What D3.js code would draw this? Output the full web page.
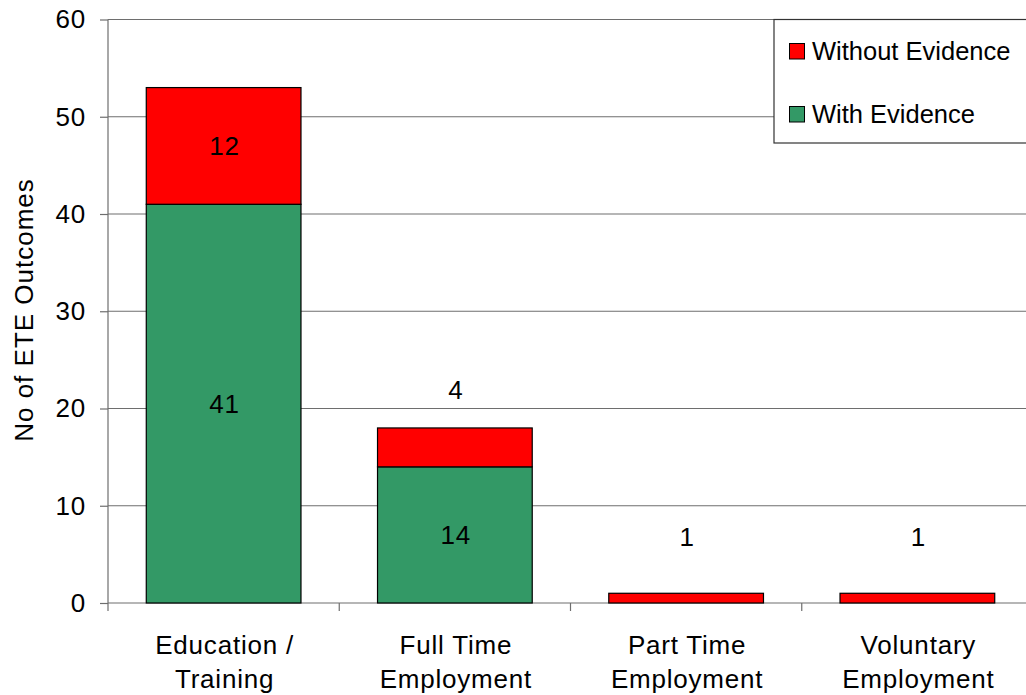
<!DOCTYPE html>
<html><head><meta charset="utf-8">
<script src="https://cdn.jsdelivr.net/npm/d3@7"></script>
<style>
html,body{margin:0;padding:0;background:#fff;}
text{font-family:"Liberation Sans",Arial,sans-serif;fill:#000;}
</style></head>
<body>
<svg id="c" width="1026" height="695"></svg>
<script>
const categories = [["Education /","Training"],["Full Time","Employment"],["Part Time","Employment"],["Voluntary","Employment"]];
const withEvidence = [41, 14, 0, 0];
const withoutEvidence = [12, 4, 1, 1];
const yTicks = [0, 10, 20, 30, 40, 50, 60];
const seriesNames = ["Without Evidence", "With Evidence"];
const colors = {with: "#339966", without: "#FF0000"};

const svg = d3.select("#c");
const L = 108, R = 1033, T = 19.5, B = 603;
const keys = categories.map((c,i)=>i);
const x = d3.scaleBand().domain(keys).range([L, R]).padding(0);
const y = d3.scaleLinear().domain([0, 60]).range([B, T]);
const barW = x.bandwidth() * 0.669;
const FS = 26, LS = "0.8px";

// gridlines
svg.append("g").selectAll("line").data(yTicks.filter(d=>d>0)).join("line")
  .attr("x1", L).attr("x2", 1026).attr("y1", d=>y(d)).attr("y2", d=>y(d))
  .attr("stroke", "#6e6e6e").attr("stroke-width", 1.2);

// y axis
const yAxis = d3.axisLeft(y).tickValues(yTicks).tickSize(8).tickPadding(14).tickFormat(d3.format("d"));
const gy = svg.append("g").attr("transform", `translate(${L},0)`).call(yAxis);
gy.select(".domain").attr("stroke", "#6e6e6e").attr("stroke-width", 1.2).attr("d", `M0,${T}V${B+8}`);
gy.selectAll(".tick line").attr("stroke", "#6e6e6e").attr("stroke-width", 1.2);
gy.selectAll(".tick text").attr("font-size", FS).attr("letter-spacing", LS).attr("fill", "#000")
  .attr("font-family", '"Liberation Sans",Arial,sans-serif');

// x axis
const gx = svg.append("g").attr("transform", `translate(0,${B})`);
gx.append("line").attr("x1", L).attr("x2", 1026).attr("y1", 0).attr("y2", 0).attr("stroke", "#6e6e6e").attr("stroke-width", 1.2);
gx.selectAll("line.tk").data(keys.slice(1)).join("line").attr("class","tk")
  .attr("x1", d=>x(d)).attr("x2", d=>x(d)).attr("y1", 0).attr("y2", 8).attr("stroke", "#6e6e6e").attr("stroke-width", 1.2);

// category labels
const cl = svg.append("g").selectAll("text").data(keys).join("text")
  .attr("text-anchor", "middle").attr("font-size", FS).attr("letter-spacing", LS);
cl.append("tspan").attr("x", d=>x(d)+x.bandwidth()/2+1).attr("y", 654).text(d=>categories[d][0]);
cl.append("tspan").attr("x", d=>x(d)+x.bandwidth()/2+1).attr("y", 688).text(d=>categories[d][1]);

// bars
const bars = svg.append("g");
keys.forEach(i=>{
  const cx = x(i) + x.bandwidth()/2;
  const w = withEvidence[i], wo = withoutEvidence[i];
  if (w > 0) bars.append("rect").attr("x", cx-barW/2).attr("width", barW)
    .attr("y", y(w)).attr("height", y(0)-y(w)).attr("fill", colors.with).attr("stroke", "#000").attr("stroke-width", 1.2);
  if (wo > 0) bars.append("rect").attr("x", cx-barW/2).attr("width", barW)
    .attr("y", y(w+wo)).attr("height", y(w)-y(w+wo)).attr("fill", colors.without).attr("stroke", "#000").attr("stroke-width", 1.2);
});

// value labels
const labels = svg.append("g");
function addLabel(i, lo, hi, v){
  if (v <= 0) return;
  const cx = x(i) + x.bandwidth()/2;
  let cy = (y(lo) + y(hi)) / 2;
  if (y(lo) - y(hi) < 45) cy -= (y(lo) - y(hi) < 20 ? 61 : 58);
  labels.append("text").attr("x", cx+1).attr("y", cy).attr("dy", "0.36em")
    .attr("text-anchor", "middle").attr("font-size", FS).attr("letter-spacing", LS).text(v);
}
keys.forEach(i=>{
  addLabel(i, 0, withEvidence[i], withEvidence[i]);
  addLabel(i, withEvidence[i], withEvidence[i]+withoutEvidence[i], withoutEvidence[i]);
});

// y title
svg.append("text").attr("transform", "translate(33,310) rotate(-90)")
  .attr("text-anchor", "middle").attr("font-size", FS).attr("letter-spacing", "1px").text("No of ETE Outcomes");

// legend
const lg = svg.append("g");
lg.append("rect").attr("x", 774).attr("y", T).attr("width", 300).attr("height", 143-T)
  .attr("fill", "#fff").attr("stroke", "#333").attr("stroke-width", 1.2);
const legendColors = [colors.without, colors.with];
const legendBase = [60, 123];
seriesNames.forEach((n, k)=>{
  lg.append("rect").attr("x", 789.5).attr("y", legendBase[k]-16.5).attr("width", 15).attr("height", 15.5)
    .attr("fill", legendColors[k]).attr("stroke", "#000").attr("stroke-width", 1);
  lg.append("text").attr("x", 812).attr("y", legendBase[k]).attr("font-size", 25.5).text(n);
});
</script>
</body></html>
